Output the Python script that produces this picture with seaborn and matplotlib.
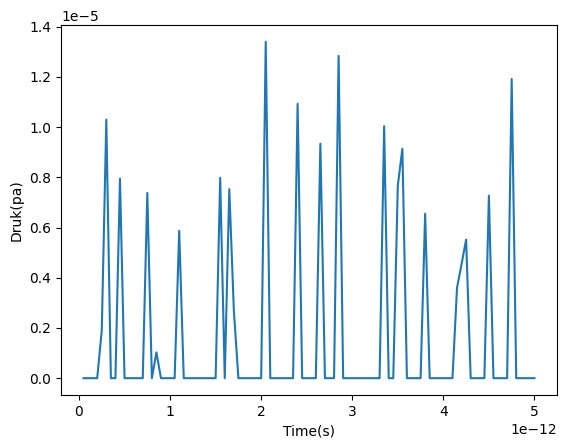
import numpy as np
import pandas as pd
import matplotlib
matplotlib.use("Agg")
import matplotlib.pyplot as plt
import seaborn as sns

# ── Data ───────────────────────────────────────
# sample times: 0.05 ps steps, 0.05 .. 5.00 ps
time_ps = np.arange(1, 101) * 0.05
# pressure, units of 1e-5 Pa, one row per 10 samples
druk_e5 = [
    0, 0, 0, 0, 0.19, 1.03, 0, 0, 0.795, 0,
    0, 0, 0, 0, 0.738, 0, 0.103, 0, 0, 0,
    0, 0.587, 0, 0, 0, 0, 0, 0, 0, 0,
    0.798, 0, 0.753, 0.27, 0, 0, 0, 0, 0, 0,
    1.34, 0, 0, 0, 0, 0, 0, 1.093, 0, 0,
    0, 0, 0.934, 0, 0, 0, 1.284, 0, 0, 0,
    0, 0, 0, 0, 0, 0, 1.004, 0, 0, 0.768,
    0.914, 0, 0, 0, 0, 0.655, 0, 0, 0, 0,
    0, 0, 0.36, 0.455, 0.552, 0, 0, 0, 0, 0.727,
    0, 0, 0, 0, 1.192, 0, 0, 0, 0, 0,
]
x_ticks_ps = [0, 1, 2, 3, 4, 5]
y_ticks_e5 = [0.0, 0.2, 0.4, 0.6, 0.8, 1.0, 1.2, 1.4]

df = pd.DataFrame({
    "time": time_ps * 1e-12,
    "druk": np.array(druk_e5) * 1e-5,
})

# ── Plot ───────────────────────────────────────
fig = plt.figure(figsize=(5.67, 4.48), dpi=100)
ax = fig.add_axes([61 / 567, 53 / 448, 496 / 567, 370 / 448])
sns.lineplot(data=df, x="time", y="druk", ax=ax, estimator=None,
             color="#1f77b4", linewidth=1.5)
ax.set_xticks(np.array(x_ticks_ps) * 1e-12)
ax.set_yticks(np.array(y_ticks_e5) * 1e-5)
ax.set_xlabel("Time(s)")
ax.set_ylabel("Druk(pa)")

fig.savefig("out.png", dpi=100)
